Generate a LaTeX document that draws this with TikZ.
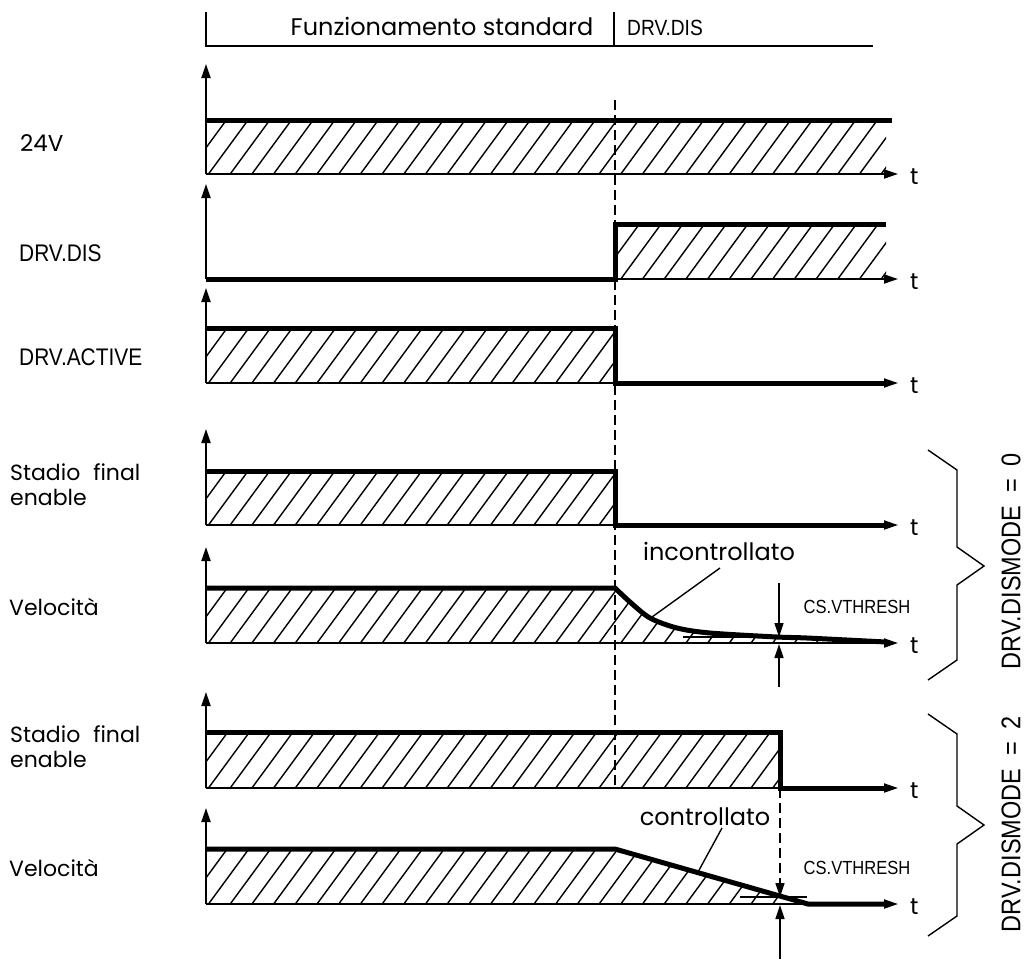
\documentclass[tikz,border=0pt]{standalone}
\usepackage{fontspec}
\setmainfont{Liberation Sans}
\newfontfamily\roundfont{Poppins}
\usetikzlibrary{arrows.meta}
\newcommand\hatchunder[2]{%
  \begin{scope}\clip #1;
  \foreach \xx in {100,121.7,...,920}{\draw[hatchline] (\xx,#2) -- ++(44,-60);}
  \end{scope}}
\newcommand\narrowtxt[1]{\scalebox{0.87}[1]{#1}}
\begin{document}
\begin{tikzpicture}[x=1pt,y=-1pt,
  axis/.style={line width=2pt},
  sig/.style={line width=5pt, line cap=butt, line join=miter},
  hatchline/.style={line width=1.4pt},
  tipa/.style={-{Triangle[length=14pt,width=9pt]}},
  lbl/.style={anchor=west, font=\fontsize{24}{26}\selectfont, inner sep=0pt},
  rlbl/.style={anchor=west, font=\roundfont\fontsize{22}{25}\selectfont, inner sep=0pt, align=left},
  wlbl/.style={font=\roundfont\fontsize{24}{28}\selectfont, inner sep=0pt},
  tl/.style={anchor=west, font=\roundfont\fontsize{23}{26}\selectfont, inner sep=0pt},
  small/.style={font=\fontsize{19}{21}\selectfont, inner sep=0pt},
  mode/.style={rotate=90, font=\fontsize{27}{30}\selectfont, inner sep=0pt},
  dsh/.style={line width=1.6pt, dash pattern=on 10pt off 5pt},
  thin/.style={line width=1.4pt},
]
\useasboundingbox (0,0) rectangle (1027,959);

% header
\draw[thin] (206,12) -- (206,46) -- (873,46);
\draw[thin] (614,12) -- (614,46);
\node[wlbl] (hstd) at (442,26) {Funzionamento standard};
\node[font=\fontsize{22}{24}\selectfont, inner sep=0pt] (hdis) at (665,28) {\narrowtxt{DRV.DIS}};

% dashed marker line
\draw[dsh] (615,100) -- (615,788);

% ---- graph 1: 24V
\hatchunder{(206,120) rectangle (886,174)}{174}
\draw[axis,tipa] (206,174) -- (206,64);
\draw[axis,tipa] (206,174) -- (898,174);
\draw[sig] (206,120) -- (892,120);
\node[anchor=west, font=\roundfont\fontsize{23}{26}\selectfont, inner sep=0pt] (l1) at (20,143) {24V};
\node[tl] (t1) at (910,177) {t};

% ---- graph 2: DRV.DIS
\hatchunder{(615,224) rectangle (886,279)}{279}
\draw[axis,tipa] (206,279) -- (206,184);
\draw[axis,tipa] (206,279) -- (898,279);
\draw[sig] (206,279) -- (615,279) -- (615,224) -- (886,224);
\node[lbl] (l2) at (19,253) {\narrowtxt{DRV.DIS}};
\node[tl] (t2) at (910,282) {t};

% ---- graph 3: DRV.ACTIVE
\hatchunder{(206,328) rectangle (615,383)}{383}
\draw[axis,tipa] (206,383) -- (206,288);
\draw[axis,tipa] (206,383) -- (898,383);
\draw[sig] (206,328) -- (615,328) -- (615,383) -- (886,383);
\node[lbl] (l3) at (19,357) {\narrowtxt{DRV.ACTIVE}};
\node[tl] (t3) at (910,386) {t};

% ---- graph 4: Stadio final enable (mode 0)
\hatchunder{(206,471) rectangle (615,525)}{525}
\draw[axis,tipa] (206,525) -- (206,429);
\draw[axis,tipa] (206,525) -- (898,525);
\draw[sig] (206,471) -- (615,471) -- (615,525) -- (886,525);
\node[rlbl] (l4) at (10,485) {Stadio\hspace{13pt}final\\enable};
\node[tl] (t4) at (910,528) {t};

% ---- graph 5: Velocita (mode 0)
\hatchunder{(206,588) -- plot[smooth] coordinates {(615,588) (630,602) (650,618) (677,628) (710,633) (777,637) (807,638) (886,642)} -- (886,643) -- (206,643) -- cycle}{643}
\draw[axis,tipa] (206,643) -- (206,547);
\draw[axis,tipa] (206,643) -- (898,643);
\draw[sig, line join=round] (206,588) -- plot[smooth] coordinates {(615,588) (630,602) (650,618) (677,628) (710,633) (777,637) (807,638) (886,642)};
\draw[thin] (683,637) -- (807,637);
\draw[thin] (720,568) -- (652,617);
\node[wlbl] (inc) at (719,551) {incontrollato};
\draw[thin,tipa] (779,583) -- (779,637);
\draw[thin,tipa] (779,687) -- (779,644);
\node[small] (cs1) at (857,607) {\narrowtxt{CS.VTHRESH}};
\node[rlbl] (l5) at (9,607) {Velocità};
\node[tl] (t5) at (910,646) {t};

% ---- graph 6: Stadio final enable (mode 2)
\hatchunder{(206,732) rectangle (780,788)}{788}
\draw[axis,tipa] (206,788) -- (206,692);
\draw[axis,tipa] (206,788) -- (898,788);
\draw[sig] (206,732) -- (780,732) -- (780,788) -- (886,788);
\node[rlbl] (l6) at (10,747) {Stadio\hspace{13pt}final\\enable};
\node[tl] (t6) at (910,791) {t};

% ---- graph 7: Velocita (mode 2)
\hatchunder{(206,849) -- (615,849) -- (808,904) -- (206,904) -- cycle}{904}
\draw[axis,tipa] (206,904) -- (206,808);
\draw[axis,tipa] (206,904) -- (898,904);
\draw[sig] (206,849) -- (615,849) -- (808,904) -- (886,904);
\draw[thin] (740,897) -- (807,897);
\draw[thin] (722,828) -- (698,872);
\node[wlbl] (con) at (705,817) {controllato};
\draw[dsh] (780,788) -- (780,880);
\draw[thin,tipa] (780,878) -- (780,897);
\draw[thin,tipa] (780,959) -- (780,905);
\node[small] (cs2) at (857,868) {\narrowtxt{CS.VTHRESH}};
\node[rlbl] (l7) at (9,868) {Velocità};
\node[tl] (t7) at (910,907) {t};

% ---- braces
\draw[thin] (928,450) -- (957,470) -- (957,547) -- (984,566) -- (957,585) -- (957,660) -- (928,680);
\draw[thin] (928,714) -- (957,734) -- (957,806) -- (984,825) -- (957,844) -- (957,916) -- (928,936);
\node[mode] (m0) at (1011,561) {\narrowtxt{DRV.DISMODE\ \ =\ \ 0}};
\node[mode] (m2) at (1011,824) {\narrowtxt{DRV.DISMODE\ \ =\ \ 2}};
\end{tikzpicture}
\end{document}
